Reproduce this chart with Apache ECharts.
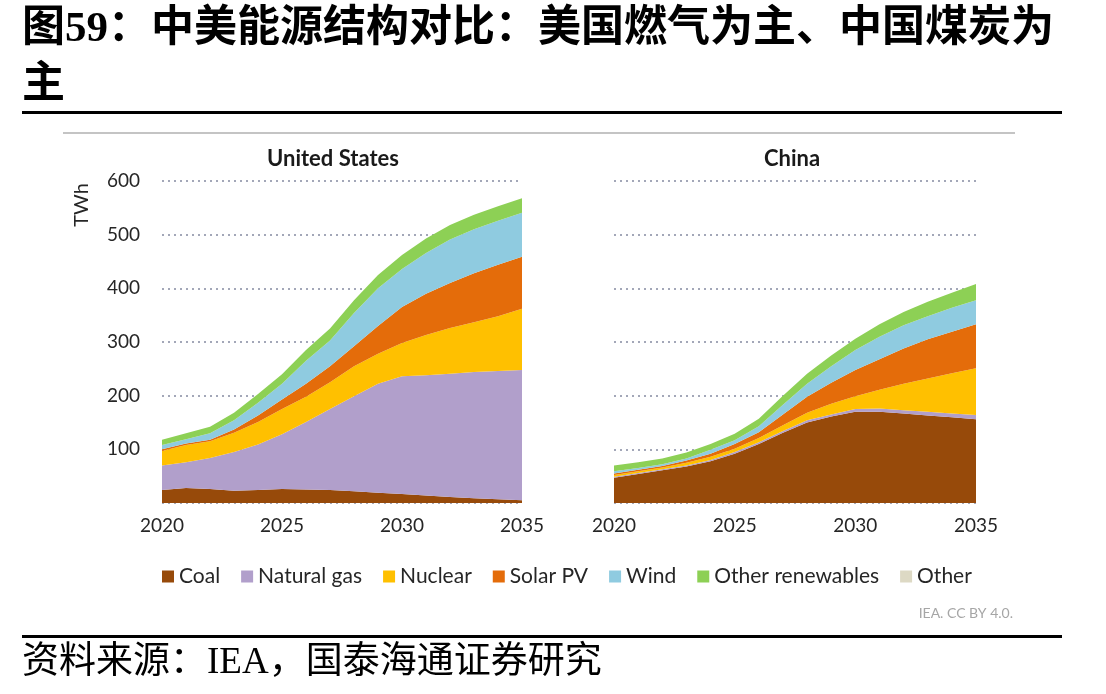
<!DOCTYPE html>
<html>
<head>
<meta charset="utf-8">
<script src="https://cdn.jsdelivr.net/npm/echarts@6/dist/echarts.min.js"></script>
<style>
  html, body { margin: 0; padding: 0; background: #fff; }
  #main { width: 1106px; height: 694px; }
</style>
</head>
<body>
<div id="main"></div>
<script>
// years on the x axis
var years = ['2020','2021','2022','2023','2024','2025','2026','2027','2028','2029','2030','2031','2032','2033','2034','2035'];
var yTicks = [100, 200, 300, 400, 500, 600];
var fuels = ['Coal', 'Natural gas', 'Nuclear', 'Solar PV', 'Wind', 'Other renewables', 'Other'];
var fuelColors = ['#974a0a', '#b19fcb', '#ffc000', '#e46c0a', '#8fcbe0', '#8dd055', '#ddd9c4'];

// United States, TWh
var usCoal    = [24, 28, 26, 23, 24, 26, 25, 24, 22, 19, 17, 14, 11, 9, 7, 5];
var usGas     = [46, 48, 58, 72, 85, 102, 126, 151, 177, 203, 219, 224, 230, 235, 239, 243];
var usNuclear = [27, 32, 31, 36, 42, 47, 47, 50, 56, 56, 62, 75, 85, 93, 102, 114];
var usSolar   = [3, 3, 3, 6, 12, 18, 24, 30, 37, 52, 67, 77, 84, 91, 96, 97];
var usWind    = [8, 8, 12, 17, 24, 29, 43, 48, 62, 70, 71, 76, 81, 82, 82, 82];
var usOtherRe = [10, 11, 12, 14, 16, 18, 20, 22, 24, 25, 26, 27, 27, 27, 27, 27];
var usOther   = [0, 0, 0, 0, 0, 0, 0, 0, 0, 0, 0, 0, 0, 0, 0, 0];

// China, TWh
var cnCoal    = [47, 54, 61, 68, 78, 92, 110, 131, 150, 161, 170, 170, 167, 163, 160, 156];
var cnGas     = [2, 2, 2, 2, 2, 3, 3, 3, 4, 4, 5, 6, 6, 7, 7, 8];
var cnNuclear = [3, 3, 3, 5, 6, 6, 8, 11, 14, 20, 24, 35, 49, 62, 75, 87];
var cnSolar   = [3, 3, 3, 4, 6, 9, 11, 20, 30, 39, 49, 57, 66, 73, 77, 82];
var cnWind    = [4, 3, 3, 4, 7, 7, 11, 18, 24, 31, 37, 42, 43, 43, 45, 45];
var cnOtherRe = [11, 11, 11, 11, 11, 12, 14, 17, 19, 20, 21, 23, 25, 27, 28, 30];
var cnOther   = [0, 0, 0, 0, 0, 0, 0, 0, 0, 0, 0, 0, 0, 0, 0, 0];

var usData = [usCoal, usGas, usNuclear, usSolar, usWind, usOtherRe, usOther];
var cnData = [cnCoal, cnGas, cnNuclear, cnSolar, cnWind, cnOtherRe, cnOther];

var chartFont = 'Lato, "Open Sans", sans-serif';
var cjkSerif = '"Liberation Serif", "Noto Sans CJK SC", serif';

function makeSeries(data, idx, stackName) {
    var out = [];
    for (var i = 0; i < fuels.length; i++) {
        out.push({
            name: fuels[i],
            type: 'line',
            stack: stackName,
            xAxisIndex: idx,
            yAxisIndex: idx,
            data: data[i],
            symbol: 'none',
            lineStyle: { width: 0 },
            itemStyle: { color: fuelColors[i] },
            areaStyle: { color: fuelColors[i], opacity: 1 }
        });
    }
    return out;
}

function xAxisFor(idx) {
    return {
        type: 'category', gridIndex: idx, data: years, boundaryGap: false,
        axisLine: { show: false }, axisTick: { show: false },
        axisLabel: { interval: 4, fontSize: 19, color: '#262626', margin: 13, fontFamily: chartFont }
    };
}

function yAxisFor(idx, showLabels) {
    return {
        type: 'value', gridIndex: idx, min: 0, max: 600, interval: 100,
        axisLine: { show: false }, axisTick: { show: false },
        axisLabel: {
            show: showLabels, fontSize: 19, color: '#262626', margin: 22, fontFamily: chartFont,
            formatter: function (v) { return yTicks.indexOf(v) >= 0 ? String(v) : ''; }
        },
        splitLine: { lineStyle: { type: [2, 4], color: '#a3a7b8', width: 2 } }
    };
}

var chart = echarts.init(document.getElementById('main'));
chart.setOption({
    animation: false,
    backgroundColor: '#fff',
    grid: [
        { left: 162, top: 181, width: 360, height: 322 },
        { left: 614, top: 181, width: 362, height: 322 }
    ],
    xAxis: [xAxisFor(0), xAxisFor(1)],
    yAxis: [yAxisFor(0, true), yAxisFor(1, false)],
    legend: {
        data: fuels,
        left: 157, top: 561,
        icon: 'rect', itemWidth: 12, itemHeight: 12, itemGap: 21,
        textStyle: { fontSize: 21, color: '#262626', fontFamily: chartFont }
    },
    series: makeSeries(usData, 0, 'us').concat(makeSeries(cnData, 1, 'cn')),
    graphic: [
        { type: 'text', left: 22, top: 8, style: { text: '图59：中美能源结构对比：美国燃气为主、中国煤炭为', font: 'bold 43px ' + cjkSerif, fill: '#000' } },
        { type: 'text', left: 22, top: 64, style: { text: '主', font: 'bold 43px ' + cjkSerif, fill: '#000' } },
        { type: 'rect', shape: { x: 22, y: 111, width: 1040, height: 3 }, style: { fill: '#000' } },
        { type: 'rect', shape: { x: 63, y: 132, width: 952, height: 2 }, style: { fill: '#c4c4c4' } },
        { type: 'text', x: 333, y: 159, style: { text: 'United States', font: 'bold 22px ' + chartFont, fill: '#1a1a1a', align: 'center', verticalAlign: 'middle' } },
        { type: 'text', x: 792, y: 159, style: { text: 'China', font: 'bold 22px ' + chartFont, fill: '#1a1a1a', align: 'center', verticalAlign: 'middle' } },
        { type: 'text', x: 82, y: 205, rotation: Math.PI / 2, style: { text: 'TWh', font: '20px ' + chartFont, fill: '#262626', align: 'center', verticalAlign: 'middle' } },
        { type: 'text', x: 1013, y: 613, style: { text: 'IEA. CC BY 4.0.', font: '14px ' + chartFont, fill: '#a6a6a6', align: 'right', verticalAlign: 'middle' } },
        { type: 'rect', shape: { x: 22, y: 635, width: 1040, height: 3 }, style: { fill: '#000' } },
        { type: 'text', x: 22, y: 663, style: { text: '资料来源：IEA，国泰海通证券研究', font: '37px ' + cjkSerif, fill: '#000', verticalAlign: 'middle' } }
    ]
});
</script>
</body>
</html>
